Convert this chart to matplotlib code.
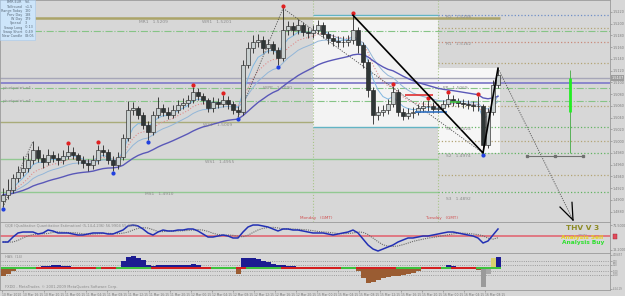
import numpy as np
import pandas as pd
import matplotlib
matplotlib.use("Agg")
import matplotlib.pyplot as plt
from matplotlib.patches import Rectangle

# ---------------- data ----------------
first_open = 1.4898
closes = [1.4909, 1.4917, 1.4937, 1.4948, 1.4954, 1.4968, 1.4985, 1.4971, 1.4965, 1.4976,
          1.4971, 1.4968, 1.4975, 1.4982, 1.4976, 1.4968, 1.4963, 1.4959, 1.4968, 1.4985,
          1.4982, 1.4968, 1.4959, 1.4973, 1.5005, 1.5053, 1.5056, 1.5045, 1.5028, 1.5016,
          1.5045, 1.5056, 1.5050, 1.5045, 1.5053, 1.5062, 1.5065, 1.5070, 1.5084, 1.5077,
          1.5070, 1.5056, 1.5067, 1.5063, 1.5070, 1.5063, 1.5053, 1.5050, 1.5130, 1.5158,
          1.5169, 1.5172, 1.5158, 1.5165, 1.5155, 1.5141, 1.5189, 1.5196, 1.5189, 1.5198,
          1.5186, 1.5184, 1.5189, 1.5198, 1.5182, 1.5175, 1.5170, 1.5169, 1.5169, 1.5172,
          1.5189, 1.5164, 1.5135, 1.5087, 1.5045, 1.5050, 1.5053, 1.5063, 1.5084, 1.5050,
          1.5043, 1.5048, 1.5050, 1.5056, 1.5060, 1.5060, 1.5055, 1.5056, 1.5063, 1.5072,
          1.5068, 1.5065, 1.5063, 1.5062, 1.5060, 1.5060, 1.4994, 1.5050, 1.5096, 1.5113]
highs = [1.4920, 1.4935, 1.4945, 1.4958, 1.4975, 1.4980, 1.5000, 1.4992, 1.4978, 1.4986,
         1.4984, 1.4980, 1.4985, 1.4993, 1.4990, 1.4980, 1.4975, 1.4970, 1.4976, 1.4994,
         1.4993, 1.4986, 1.4974, 1.4982, 1.5012, 1.5068, 1.5066, 1.5060, 1.5050, 1.5034,
         1.5052, 1.5075, 1.5064, 1.5058, 1.5062, 1.5070, 1.5074, 1.5078, 1.5092, 1.5090,
         1.5082, 1.5074, 1.5075, 1.5074, 1.5078, 1.5076, 1.5068, 1.5060, 1.5138, 1.5168,
         1.5180, 1.5182, 1.5178, 1.5174, 1.5170, 1.5160, 1.5226, 1.5205, 1.5202, 1.5208,
         1.5203, 1.5194, 1.5198, 1.5206, 1.5202, 1.5188, 1.5182, 1.5178, 1.5178, 1.5180,
         1.5214, 1.5194, 1.5168, 1.5140, 1.5092, 1.5060, 1.5062, 1.5072, 1.5094, 1.5088,
         1.5056, 1.5056, 1.5058, 1.5064, 1.5068, 1.5070, 1.5066, 1.5064, 1.5070, 1.5080,
         1.5078, 1.5074, 1.5072, 1.5070, 1.5068, 1.5076, 1.5064, 1.5056, 1.5104, 1.5124]
lows = [1.4888, 1.4902, 1.4912, 1.4930, 1.4940, 1.4948, 1.4962, 1.4965, 1.4955, 1.4960,
        1.4964, 1.4960, 1.4962, 1.4970, 1.4970, 1.4962, 1.4955, 1.4950, 1.4953, 1.4962,
        1.4974, 1.4962, 1.4950, 1.4952, 1.4968, 1.5000, 1.5044, 1.5038, 1.5020, 1.5002,
        1.5010, 1.5040, 1.5042, 1.5038, 1.5040, 1.5048, 1.5055, 1.5058, 1.5065, 1.5070,
        1.5063, 1.5050, 1.5050, 1.5056, 1.5058, 1.5055, 1.5046, 1.5041, 1.5045, 1.5124,
        1.5150, 1.5160, 1.5150, 1.5150, 1.5148, 1.5130, 1.5136, 1.5180, 1.5180, 1.5182,
        1.5178, 1.5175, 1.5176, 1.5182, 1.5175, 1.5166, 1.5162, 1.5160, 1.5160, 1.5162,
        1.5166, 1.5150, 1.5125, 1.5075, 1.5030, 1.5036, 1.5042, 1.5046, 1.5058, 1.5042,
        1.5036, 1.5038, 1.5040, 1.5044, 1.5050, 1.5052, 1.5048, 1.5048, 1.5050, 1.5058,
        1.5060, 1.5058, 1.5056, 1.5055, 1.5052, 1.5052, 1.4980, 1.4988, 1.5044, 1.5090]
qqe = [36.8, 36.8, 48.1, 57.2, 59.4, 59.4, 59.4, 54.9, 57.2, 63.9,
       61.7, 57.2, 57.2, 57.2, 54.9, 52.6, 52.6, 54.9, 57.2, 57.2,
       57.2, 54.9, 54.9, 59.4, 63.9, 73.0, 75.2, 73.0, 66.2, 57.2,
       52.6, 59.4, 63.9, 61.7, 61.7, 63.9, 63.9, 66.2, 66.2, 61.7,
       54.9, 48.1, 48.1, 50.4, 52.6, 50.4, 45.9, 45.9, 59.4, 70.7,
       75.2, 75.2, 73.0, 70.7, 66.2, 61.7, 66.2, 66.2, 63.9, 63.9,
       61.7, 59.4, 57.2, 57.2, 57.2, 54.9, 52.6, 54.9, 57.2, 59.4,
       63.9, 57.2, 43.6, 30.1, 21.0, 16.5, 21.0, 25.6, 30.1, 36.8,
       41.4, 45.9, 45.9, 48.1, 50.4, 50.4, 52.6, 54.9, 57.2, 59.4,
       59.4, 57.2, 54.9, 52.6, 50.4, 45.9, 34.6, 39.1, 52.6, 66.2]
hist = [-240, -180, -90, 30, 45, 15, -15, 30, 60, 75,
        90, 90, 75, 60, 30, 15, -15, -15, 30, 45,
        30, 15, -30, 30, 210, 345, 360, 300, 255, 90,
        60, 105, 105, 90, 90, 105, 105, 90, 120, 90,
        45, -15, -30, 30, 45, 30, -15, -180, 315, 300,
        300, 285, 225, 180, 120, 90, 90, 75, 60, 45,
        45, 30, 45, 30, 15, -15, -30, -15, 15, 30,
        15, -90, -300, -450, -420, -360, -300, -270, -240, -225,
        -195, -165, -135, -90, -30, -15, -15, 15, 30, 90,
        60, 15, -15, -30, -15, -45, -570, -180, 300, 330]
band = ("ggggggg" "rr" "rrrrrrrrrr" "g" "rrr" "g" "gggggg" "rrrrrrrrrrrr" "ggggg" "rr"
        "ggggggg" "rrrrrrrrrrrr" "ggg" "rrrrrrrr" "ggggg" "rrrr" "gg" "rrrrr" "ggggg")
x_labels = ["10 Mar 2010", "10 Mar 16:15", "10 Mar 20:15", "11 Mar 00:15", "11 Mar 04:15",
            "11 Mar 08:15", "11 Mar 12:15", "11 Mar 16:15", "11 Mar 20:15", "12 Mar 00:15",
            "12 Mar 04:15", "12 Mar 08:15", "12 Mar 12:15", "12 Mar 16:15", "12 Mar 20:15",
            "15 Mar 00:15", "15 Mar 04:15", "15 Mar 08:15", "15 Mar 12:15", "15 Mar 16:15",
            "15 Mar 20:15", "16 Mar 00:15", "16 Mar 04:15", "16 Mar 08:15"]
fractal_up = [13, 19, 38, 44, 56, 70, 78, 85, 89, 95]
fractal_dn = [0, 22, 29, 47, 55, 96]
monday_idx, tuesday_idx = 62, 87
last_price = 1.5107
# pivot levels: price, start index, end index, kind
levels = [
    (1.5214, 62, 87, 'teal'), (1.5214, 87, 122, 'bdot'),
    (1.5209, 6.4, 99.4, 'olive'), (1.5192, 87, 122, 'kdot'),
    (1.5187, -1, 122, 'gdash'), (1.5169, 87, 122, 'rdot'),
    (1.5133, 87, 122, 'kdot'), (1.5107, -1, 122, 'grey'),
    (1.5099, -1, 122, 'purple'), (1.5090, -1, 122, 'gdash'),
    (1.5068, -1, 122, 'gdash'), (1.5060, 87, 122, 'kdot'),
    (1.5033, -1, 62, 'olive2'), (1.5024, 62, 87, 'teal'),
    (1.5024, 87, 122, 'gdot'), (1.5000, 87, 122, 'kdot'),
    (1.4980, 87, 122, 'gdot'), (1.4970, -1, 87, 'green'),
    (1.4943, 87, 122, 'kdot'), (1.4913, -1, 87, 'green'),
    (1.4913, 87, 122, 'gdot'),
]
styles = {
    'teal': ('#62b4c4', '-', 1.0), 'bdot': ('#6f8fc8', ':', 0.9),
    'olive': ('#aba468', '-', 1.8), 'olive2': ('#a9ab7a', '-', 1.0),
    'kdot': ('#b3a474', ':', 0.9), 'gdash': ('#86c486', '-.', 0.8),
    'rdot': ('#c98a7a', ':', 0.9), 'grey': ('#a6a6b8', '-', 1.0),
    'purple': ('#8a86cc', '-', 1.4), 'gdot': ('#62b462', ':', 0.9),
    'green': ('#92c892', '-', 1.0),
}

# ---------------- figure ----------------
BG = '#d7d7d7'
W, H = 625, 296
fig = plt.figure(figsize=(6.25, 2.96), dpi=100, facecolor=BG)

def fx(px):
    return px / W

def fy(py):
    return 1 - py / H

RIGHT = 610
ax = fig.add_axes([0, fy(222), fx(RIGHT), 222 / H])
axq = fig.add_axes([0, fy(253), fx(RIGHT), 31 / H])
axh = fig.add_axes([0, fy(290), fx(RIGHT), 37 / H])
XL = (-0.6, 121.4)
for a in (ax, axq, axh):
    a.set_facecolor(BG)
    a.set_xlim(*XL)
    for s in a.spines.values():
        s.set_color('#9a9a9a')
        s.set_linewidth(0.6)
    a.yaxis.tick_right()
    a.tick_params(axis='y', labelsize=2.4, colors='#7a7a7a', length=1.2, pad=0.6, width=0.4)
    a.tick_params(axis='x', length=0)
    a.set_xticklabels([])

n = len(closes)
idx = np.arange(n)
o = np.array([first_open] + closes[:-1])
c = np.array(closes)
h = np.array(highs)
l = np.array(lows)

# --- main panel ---
ax.set_ylim(1.48626, 1.5240)
ax.set_yticks(np.arange(1.4880, 1.5230, 0.0020))
ax.yaxis.set_major_formatter(matplotlib.ticker.FormatStrFormatter('%.4f'))

# day range boxes
ax.add_patch(Rectangle((monday_idx, 1.5024), tuesday_idx - monday_idx, 1.5214 - 1.5024,
                       facecolor='#f3f3f3', edgecolor='none', zorder=0))
ax.add_patch(Rectangle((tuesday_idx, min(lows[tuesday_idx:])), n - 0.6 - tuesday_idx,
                       max(highs[tuesday_idx:]) - min(lows[tuesday_idx:]),
                       facecolor='#f6f6f6', edgecolor='none', zorder=0))
for d in (monday_idx, tuesday_idx):
    ax.axvline(d, color='#a8c488', ls=':', lw=0.8, zorder=1)

for p, x0, x1, k in levels:
    col, ls, lw = styles[k]
    ax.hlines(p, x0, x1, colors=col, linestyles=ls, lw=lw, zorder=1)

# moving averages
s = pd.Series(closes)
for span, col, ls, lw in [(5, '#80b8e2', '-', 0.7), (9, '#df8e8e', ':', 0.8),
                          (14, '#92b6d8', '-', 0.7), (30, '#5a58b8', '-', 1.0)]:
    ax.plot(idx, s.ewm(span=span, adjust=False).mean(), color=col, ls=ls, lw=lw, zorder=3)

# candles
ax.vlines(idx, l, h, color='#262626', lw=0.6, zorder=4)
up = c >= o
ax.bar(idx[up], (c - o)[up], bottom=o[up], width=0.75, color='#c9d0d0',
       edgecolor='#262626', lw=0.45, zorder=5)
ax.bar(idx[~up], (o - c)[~up], bottom=c[~up], width=0.75, color='#2f3636',
       edgecolor='#262626', lw=0.45, zorder=5)

# fractals
ax.plot(fractal_up, h[fractal_up] + 0.0004, 'o', color='#e02020', ms=2.0, zorder=6)
ax.plot(fractal_dn, l[fractal_dn] - 0.0004, 'o', color='#2040e0', ms=2.0, zorder=6)

# dotted swing lines
for a_, b_ in [((0, lows[0]), (6, highs[6])), ((47, lows[47]), (56, highs[56])),
               ((56, highs[56]), (96, lows[96]))]:
    ax.plot([a_[0], b_[0]], [a_[1], b_[1]], color='#505050', ls=(0, (1.5, 1.5)), lw=0.6, zorder=4)

# black trend lines
ax.plot([70, 96, 99], [highs[70], lows[96], highs[99]], color='black', lw=1.2, zorder=7)

# red / blue / green short segments
ax.hlines(1.5079, 80.4, 86, colors='#e03030', lw=1.2, zorder=6)
ax.hlines(1.5050, 82.4, 88.8, colors='#3070c0', lw=1.2, zorder=6)
ax.hlines(1.5067, 89.4, 91.4, colors='#40c040', lw=1.2, zorder=6)

# projection arrow
ax.plot([99, 114], [highs[99], 1.4866], color='#606060', ls=(0, (1.2, 1.2)), lw=0.7, zorder=4)
ax.plot([111.4, 114], [1.4888, 1.4866], color='black', lw=0.9, zorder=6)
ax.plot([113.8, 114], [1.4896, 1.4866], color='black', lw=0.9, zorder=6)

# target bars
ax.vlines(113.4, 1.4980, 1.5121, colors='#58b058', lw=0.7, zorder=5)
ax.vlines(113.4, 1.5050, 1.5107, colors='#22ee22', lw=2.0, zorder=6)
ax.plot([104.8, 110.4, 116], [1.4975] * 3, color='#707070', lw=0.8, marker='s', ms=1.4, zorder=5)

# --- text annotations (main) ---
tk = dict(fontsize=3.2, color='#8c8c8c')
for px_, py_, t in [(139, 22, 'MR1   1.5209'), (202, 22, 'WR1   1.5201'), (446, 17, 'R2   1.5208'),
                    (446, 44, 'R1   1.5162'), (263, 88, 'WPP   1.5090'), (443, 88, 'PP   1.5069'),
                    (203, 125, 'WS1   1.5009'), (205, 162, 'WS1   1.4955'), (145, 194, 'MS1   1.4910'),
                    (446, 129, 'S1   1.5024'), (446, 156, 'S2   1.4974'), (446, 199, 'S3   1.4892'),
                    (3, 88, 'pivotpoint.a4'), (3, 101, 'pivotpoint.a4')]:
    fig.text(fx(px_), fy(py_), t, va='center', ha='left', **tk)
fig.text(fx(300), fy(218), 'Monday   (GMT)', fontsize=3, color='#d05050', va='center')
fig.text(fx(425), fy(218), 'Tuesday   (GMT)', fontsize=3, color='#d05050', va='center')

# info box
fig.patches.append(Rectangle((0, fy(40)), fx(35), 40 / H, transform=fig.transFigure,
                             facecolor='#cde5fa', edgecolor='#a8c8e8', lw=0.4, zorder=10))
info = [("EMR.EUR", "Vol."), ("Tollround", "<1.5"), ("Range Today", "120"), ("Prev Day", "188"),
        ("W Day", "179"), ("Spread", "3"), ("Swap Long", "-0.13"), ("Swap Short", "-0.49"),
        ("New Candle", "08:05")]
for k_, (a_, b_) in enumerate(info):
    yy = 2.3 + k_ * 4.2
    fig.text(fx(22), fy(yy), a_, fontsize=2.4, color='#5a6a7a', ha='right', va='center', zorder=11)
    fig.text(fx(25), fy(yy), b_, fontsize=2.4, color='#5a6a7a', ha='left', va='center', zorder=11)

# last price box
fig.patches.append(Rectangle((fx(RIGHT + 1), fy(81)), fx(13), 6 / H, transform=fig.transFigure,
                             facecolor='#9c9c9c', edgecolor='none', zorder=10))
fig.text(fx(RIGHT + 7.5), fy(78), f'{last_price:.4f}', fontsize=2.5, color='white', ha='center',
         va='center', zorder=11)

# --- QQE panel ---
axq.set_ylim(12, 82)
axq.set_yticks([75.2, 18.8])
axq.set_yticklabels(['71.5000', '18.2000'])
qs = pd.Series(qqe)
axq.plot(idx, qs.ewm(span=5, adjust=False).mean().shift(1).bfill(), color='#6a6a6a',
         ls=(0, (1, 1)), lw=0.8)
axq.plot(idx, qqe, color='#2230b4', lw=1.1)
axq.axhline(50.4, color='#e0707c', lw=1.3, zorder=1)
fig.text(fx(5), fy(225.5), 'QQE (Qualitative Quantitative Estimation) (5,14,4.236) 56.9904 55.8600',
         fontsize=2.6, color='#8a8a8a', va='center')
fig.text(fx(583), fy(228.3), 'THV V 3', fontsize=5.3, color='#8c8a24', weight='bold',
         ha='center', va='center')
fig.text(fx(583), fy(234.2), 'Average', fontsize=1.7, color='#8a8a8a', ha='center', va='center')
fig.text(fx(582), fy(237.6), 'Analysis Sell', fontsize=4.2, color='#e6d022', weight='bold',
         ha='center', va='center')
fig.text(fx(583), fy(242.5), 'Analysis Buy', fontsize=4.2, color='#2ee02e', weight='bold',
         ha='center', va='center')
fig.patches.append(Rectangle((fx(RIGHT + 2.5), fy(238.5)), fx(4.5), 4.5 / H, transform=fig.transFigure,
                             facecolor='#e04a5a', edgecolor='#a02030', lw=0.3, zorder=10))

# --- histogram panel ---
axh.set_ylim(-660, 450)
axh.set_yticks([400, 200, 100, -100, -200, -624])
axh.set_yticklabels(['400.657', '200', '100', '-100', '-200', '-424.19'], fontsize=1.8)
hv = np.array(hist)
cols = np.where(hv >= 0, '#1c1c92', '#9a5c32').astype(object)
cols[96], cols[97], cols[98] = '#9a9a9a', '#a8a8a8', '#d8d070'
axh.bar(idx, hv, width=1.0, color=list(cols), lw=0, zorder=2)
for v in (200, 100, -100, -200):
    axh.axhline(v, color='#8a8a8a', ls=':', lw=0.6, zorder=1)
bcol = ['#d42020' if ch == 'r' else '#3ec23e' for ch in band]
axh.bar(idx, 70, bottom=-35, width=1.0, color=bcol, lw=0, zorder=3)
fig.text(fx(5), fy(256.5), 'HAS  (14)', fontsize=2.6, color='#8a8a8a', va='center')
fig.text(fx(5), fy(287), 'FXDD - MetaTrader, \u00a9 2001-2009 MetaQuotes Software Corp.',
         fontsize=2.6, color='#8a8a8a', va='center')

# x labels
tpos = -0.2 + 4.2 * np.arange(len(x_labels))
axh.set_xticks(tpos)
axh.set_xticklabels(x_labels, fontsize=2.2, color='#7a7a7a', ha='left')
axh.tick_params(axis='x', length=1.5, pad=0.8, width=0.4, colors='#7a7a7a')

fig.savefig('out.png', dpi=100, facecolor=BG)
